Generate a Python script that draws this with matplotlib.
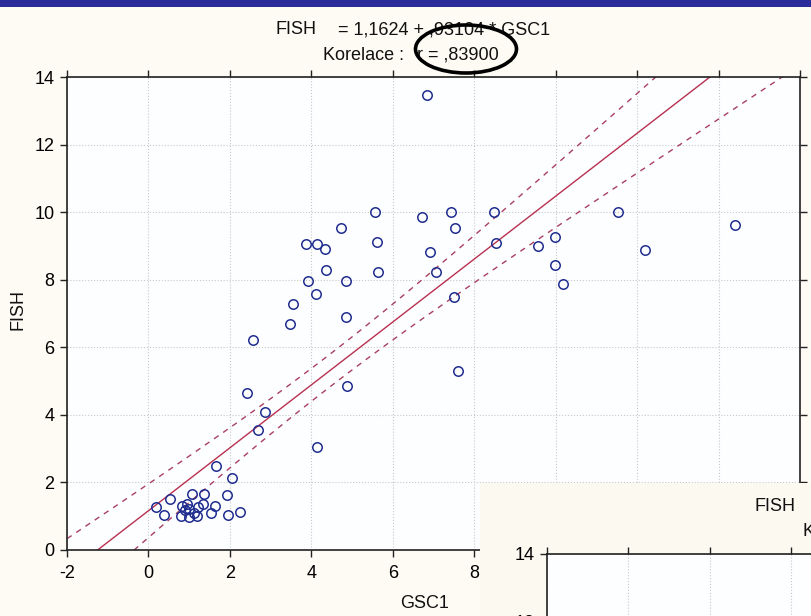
import numpy as np
import matplotlib
matplotlib.use('Agg')
import matplotlib.pyplot as plt
from matplotlib.patches import Rectangle, Ellipse

plt.rcParams['font.family'] = ['Liberation Sans Narrow', 'Liberation Sans', 'DejaVu Sans']
plt.rcParams['axes.unicode_minus'] = False

# data (GSC1 vs FISH)
gsc1 = [5.57, 6.72, 4.72, 3.88, 4.14, 4.34, 5.61, 6.92, 4.37, 5.64,
        3.91, 4.86, 4.11, 3.54, 3.48, 4.86, 2.57, 2.43, 4.88, 2.86,
        2.70, 4.14, 6.85, 7.43, 8.48, 7.54, 8.54, 7.05, 7.50, 7.60,
        9.56, 9.98, 9.98, 10.18, 11.52, 12.20, 14.40,
        1.66, 2.05, 0.19, 0.52, 0.38, 1.06, 1.37, 0.82, 0.94, 1.00,
        1.21, 1.35, 1.64, 1.92, 0.80, 1.00, 1.20, 1.53, 1.95, 2.25,
        1.12, 0.90]
fish = [9.99, 9.85, 9.53, 9.07, 9.07, 8.91, 9.11, 8.83, 8.28, 8.24,
        7.96, 7.96, 7.57, 7.29, 6.70, 6.90, 6.22, 4.66, 4.85, 4.07,
        3.55, 3.05, 13.47, 10.00, 10.00, 9.54, 9.08, 8.24, 7.49, 5.29,
        9.00, 9.27, 8.43, 7.88, 10.00, 8.87, 9.61,
        2.50, 2.14, 1.26, 1.51, 1.04, 1.67, 1.67, 1.30, 1.35, 1.20,
        1.26, 1.35, 1.31, 1.63, 1.00, 0.99, 1.02, 1.09, 1.03, 1.12,
        1.10, 1.18]

intercept = 1.1624
slope = 0.93104
t_val = 1.65
x_ticks = [-2, 0, 2, 4, 6, 8, 10, 12, 14, 16]
y_ticks = [0, 2, 4, 6, 8, 10, 12, 14]
title1_a = 'FISH'
title1_b = '= 1,1624 + ,93104 * GSC1'
title2_a = 'Korelace :'
title2_b = 'r = ,83900'

W, H = 811, 616
fig = plt.figure(figsize=(W / 100, H / 100), dpi=100)
fig.patch.set_facecolor('#fdfbf3')

# axes frame in pixels (left, top, right, bottom)
L, T, R, B = 67, 77, 800, 550
aw, ah = R - L, B - T
fs = 13

x = np.array(gsc1)
y = np.array(fish)
n = len(x)
xm = x.mean()
sxx = ((x - xm) ** 2).sum()
s = np.sqrt(((y - (intercept + slope * x)) ** 2).sum() / (n - 2))
xs = np.linspace(-2, 16, 200)
yfit = intercept + slope * xs
hw = t_val * s * np.sqrt(1 / n + (xs - xm) ** 2 / sxx)


def px_x(p):
    return (p - L) / aw


def px_y(p):
    return (B - p) / ah


def draw_panel(dx, dy, z):
    ax = fig.add_axes([(L + dx) / W, 1 - (B + dy) / H, aw / W, ah / H])
    ax.set_zorder(z)
    ax.set_facecolor('#fdfeff')
    ax.plot(xs, yfit, color='#b83050', lw=1.0)
    ax.plot(xs, yfit + hw, color='#a84060', lw=1.0, ls=(0, (4, 4)))
    ax.plot(xs, yfit - hw, color='#a84060', lw=1.0, ls=(0, (4, 4)))
    ax.plot(x, y, 'o', mfc='none', mec='#1f2d8f', ms=6.8, mew=1.1)
    ax.set_xlim(-2, 16)
    ax.set_ylim(0, 14)
    ax.set_xticks(x_ticks)
    ax.set_yticks(y_ticks)
    ax.grid(True, color='#c8c8c8', ls=':', lw=0.8)
    ax.set_axisbelow(True)
    ax.tick_params(direction='out', length=5, width=1, top=True, right=True,
                   labelsize=fs, color='#222222')
    ax.tick_params(axis='x', pad=6)
    ax.tick_params(axis='y', pad=4)
    for sp in ax.spines.values():
        sp.set_linewidth(1.2)
        sp.set_color('#222222')
    kw = dict(transform=ax.transAxes, fontsize=fs, clip_on=False, color='#111111')
    ax.text(px_x(275), px_y(30), title1_a, ha='left', va='center', **kw)
    ax.text(px_x(338), px_y(30), title1_b, ha='left', va='center', **kw)
    ax.text(px_x(323), px_y(55), title2_a, ha='left', va='center', **kw)
    ax.text(px_x(417), px_y(55), title2_b, ha='left', va='center', **kw)
    ax.text(px_x(425), px_y(603), 'GSC1', ha='center', va='center', **kw)
    ax.text(px_x(18), px_y(310), 'FISH', ha='center', va='center',
            rotation=90, **kw)
    return ax


draw_panel(0, 0, 0)

# second window overlapping the bottom right corner
fig.add_artist(Rectangle((480 / W, 0), 1, 1 - 483 / H, transform=fig.transFigure,
                         facecolor='#fcf9f0', edgecolor='none', zorder=1))
draw_panel(480, 477, 2)

# blue title bar
fig.add_artist(Rectangle((0, 1 - 7 / H), 1, 7 / H, transform=fig.transFigure,
                         facecolor='#2b2b9c', edgecolor='none', zorder=4))

# hand drawn ellipse around the correlation
fig.add_artist(Ellipse((466 / W, 1 - 49 / H), 101 / W, 48 / H,
                       transform=fig.transFigure, fill=False,
                       edgecolor='black', lw=2.6, zorder=5))

fig.savefig('out.png', dpi=100, facecolor=fig.get_facecolor())
